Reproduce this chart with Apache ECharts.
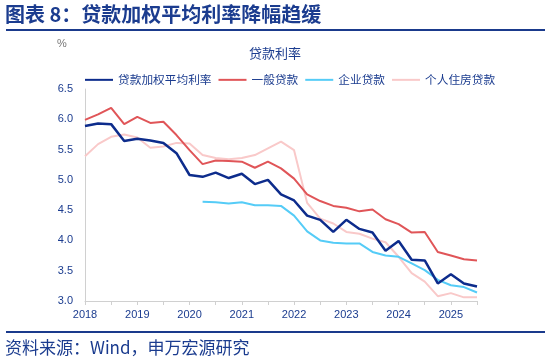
<!DOCTYPE html>
<html><head><meta charset="utf-8">
<script src="https://cdn.jsdelivr.net/npm/echarts@6/dist/echarts.min.js"></script>
<style>
html,body{margin:0;padding:0;background:#fff;}
#c{width:550px;height:362px;}
</style></head>
<body><div id="c"></div>
<script>
const quarters = ["2018Q1","2018Q2","2018Q3","2018Q4","2019Q1","2019Q2","2019Q3","2019Q4","2020Q1","2020Q2","2020Q3","2020Q4","2021Q1","2021Q2","2021Q3","2021Q4","2022Q1","2022Q2","2022Q3","2022Q4","2023Q1","2023Q2","2023Q3","2023Q4","2024Q1","2024Q2","2024Q3","2024Q4","2025Q1","2025Q2","2025Q3"];
const weighted = [5.89,5.93,5.92,5.64,5.68,5.65,5.61,5.44,5.08,5.05,5.12,5.03,5.10,4.93,5.00,4.76,4.66,4.41,4.34,4.14,4.34,4.19,4.13,3.83,3.99,3.68,3.67,3.29,3.44,3.29,3.24];
const general = [5.99,6.08,6.19,5.92,6.04,5.94,5.96,5.74,5.49,5.26,5.32,5.31,5.30,5.20,5.30,5.19,5.02,4.76,4.65,4.57,4.54,4.48,4.51,4.35,4.27,4.13,4.14,3.81,3.75,3.69,3.67];
const enterprise = [null,null,null,null,null,null,null,null,null,4.64,4.63,4.61,4.63,4.58,4.58,4.57,4.41,4.15,4.00,3.96,3.95,3.95,3.81,3.75,3.73,3.62,3.51,3.35,3.26,3.23,3.14];
const mortgage = [5.39,5.59,5.71,5.75,5.70,5.53,5.55,5.61,5.60,5.41,5.36,5.34,5.36,5.41,5.52,5.63,5.49,4.62,4.36,4.28,4.14,4.11,4.03,3.97,3.73,3.46,3.32,3.08,3.13,3.06,3.06];
const seriesNames = ["贷款加权平均利率","一般贷款","企业贷款","个人住房贷款"];
const yTicks = {min:3.0, max:6.5, step:0.5};

const navy = '#1b3c8f';
const cjk = '"Noto Sans CJK SC","Noto Sans",sans-serif';
const chart = echarts.init(document.getElementById('c'));
function mk(name, data, color, w){
  return {name, type:'line', data, symbol:'none', connectNulls:false,
    lineStyle:{color, width:w}, itemStyle:{color}};
}
chart.setOption({
  animation:false,
  graphic:[
    {type:'text', left:5, top:4, style:{text:'图表 8：贷款加权平均利率降幅趋缓', font:'bold 20px '+cjk, fill:navy}},
    {type:'rect', shape:{x:6,y:29,width:539,height:2}, style:{fill:'#1a3a8c'}},
    {type:'rect', shape:{x:6,y:331,width:539,height:2}, style:{fill:'#1a3a8c'}},
    {type:'text', left:5, top:339, style:{text:'资料来源：Wind，申万宏源研究', font:'17px '+cjk, fill:navy}},
    {type:'text', left:57, top:38, style:{text:'%', font:'11px "Liberation Sans",Arial,sans-serif', fill:'#777'}}
  ],
  title:{text:'贷款利率', left:'center', top:42, textStyle:{fontFamily:cjk, fontSize:13, fontWeight:'normal', color:navy}},
  legend:{top:69, left:80, itemWidth:28, itemHeight:2, itemGap:7,
    icon:'rect',
    textStyle:{fontFamily:cjk, fontSize:11.7, color:navy},
    data:seriesNames},
  grid:{left:85, right:73, top:89, bottom:61},
  xAxis:{type:'category', data:quarters, boundaryGap:false,
    axisLine:{lineStyle:{color:'#d0d0d0', width:1}},
    axisTick:{interval:function(i){return i%2===0;}, length:4, lineStyle:{color:'#d0d0d0'}},
    axisLabel:{interval:function(i){return i%4===0;}, formatter:function(v){return v.slice(0,4);},
      color:navy, fontFamily:'"Liberation Sans",Arial,sans-serif', fontSize:11, margin:8}},
  yAxis:{type:'value', min:yTicks.min, max:yTicks.max, interval:yTicks.step,
    axisLine:{show:true, lineStyle:{color:'#d0d0d0'}},
    axisTick:{show:false}, splitLine:{show:false},
    axisLabel:{formatter:function(v){return v.toFixed(1);}, color:navy,
      fontFamily:'"Liberation Sans",Arial,sans-serif', fontSize:11, margin:12}},
  series:[
    mk(seriesNames[3], mortgage, '#f9c9c9', 2),
    mk(seriesNames[2], enterprise, '#55ccf7', 2),
    mk(seriesNames[1], general, '#e05558', 2),
    mk(seriesNames[0], weighted, '#0d2c8c', 2.5)
  ]
});
</script></body></html>
